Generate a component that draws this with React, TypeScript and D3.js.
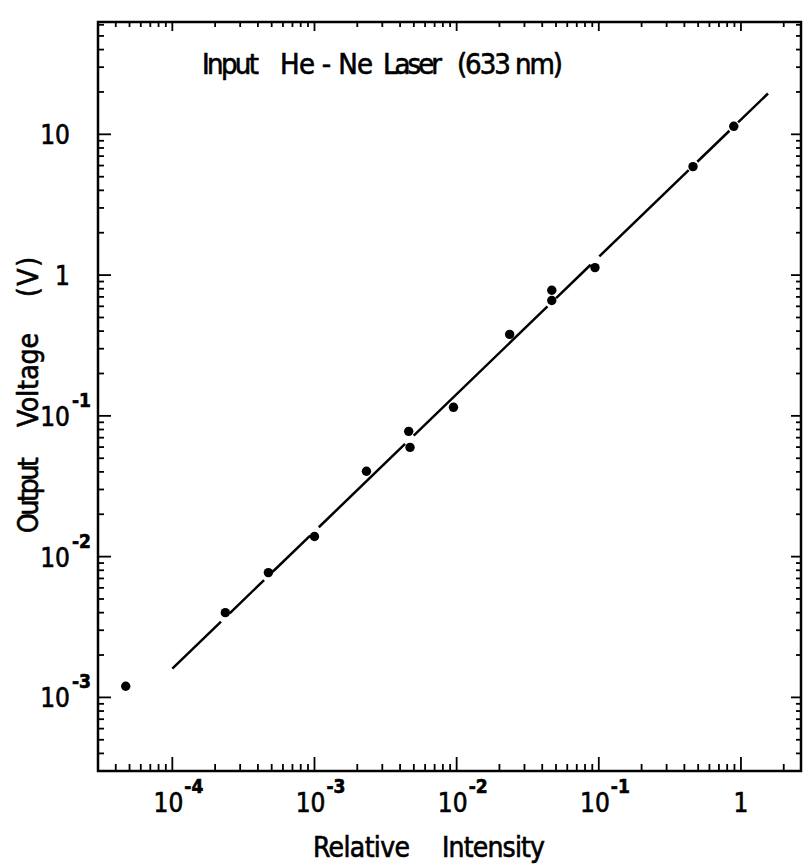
import React from 'react';
import * as d3 from 'd3';

// measured points (relative intensity vs output voltage)
const intensity = [4.7e-5, 2.36e-4, 4.74e-4, 1.0e-3, 2.32e-3, 4.6e-3, 4.7e-3, 9.5e-3, 2.36e-2, 4.67e-2, 4.67e-2, 9.4e-2, 0.46, 0.89];
const voltage = [1.2e-3, 4.0e-3, 7.7e-3, 1.39e-2, 4.04e-2, 7.76e-2, 5.97e-2, 0.115, 0.379, 0.78, 0.66, 1.13, 5.9, 11.4];

// fitted straight line, with breaks where it passes under a dot
const fitIntensity = [1e-4, 1.55];
const fitVoltage = [1.6e-3, 19.5];
const gapIntensity = [2.36e-4, 4.74e-4, 1.0e-3, 4.65e-3, 4.67e-2, 9.4e-2, 0.46, 0.89];

const xMajor = [1e-4, 1e-3, 1e-2, 1e-1, 1];
const xMajorExp = ['-4', '-3', '-2', '-1', ''];
const yMajor = [1e-3, 1e-2, 1e-1, 1, 10];
const yMajorBase = ['10', '10', '10', '1', '10'];
const yMajorExp = ['-3', '-2', '-1', '', ''];

const W = 803;
const H = 864;
const left = 98, right = 801, top = 22, bottom = 771;
const font = "'Liberation Sans Narrow', 'DejaVu Sans Condensed', 'Arial Narrow', sans-serif";

export default function App() {
  const x = d3.scaleLog().domain([3e-5, 2.645]).range([left, right]);
  const y = d3.scaleLog().domain([3e-4, 62.8]).range([bottom, top]);

  const isMajor = (v: number) => Math.abs(Math.log10(v) - Math.round(Math.log10(v))) < 1e-6;
  const xTicks = x.ticks().filter(v => x(v) > left + 1 && x(v) < right - 1);
  const yTicks = y.ticks().filter(v => y(v) < bottom - 1 && y(v) > top + 1);

  // fit line split into segments around the gaps
  const x0 = x(fitIntensity[0]), y0 = y(fitVoltage[0]);
  const x1 = x(fitIntensity[1]), y1 = y(fitVoltage[1]);
  const len = Math.hypot(x1 - x0, y1 - y0);
  const gapHalf = 6;
  const cuts = gapIntensity.map(g => ((x(g) - x0) / (x1 - x0)) * len).sort((a, b) => a - b);
  const segs: [number, number][] = [];
  let start = 0;
  cuts.forEach(c => {
    if (c - gapHalf > start) segs.push([start, c - gapHalf]);
    start = c + gapHalf;
  });
  if (start < len) segs.push([start, len]);
  const pt = (t: number) => [x0 + ((x1 - x0) * t) / len, y0 + ((y1 - y0) * t) / len];
  const line = d3.line();

  return (
    <div style={{ position: 'absolute', left: 0, top: 0 }}>
      <svg width={W} height={H} style={{ display: 'block', background: '#fff' }}>
        <rect x={left} y={top} width={right - left} height={bottom - top} fill="none" stroke="#000" strokeWidth={2.5} />

        {/* bottom + top ticks */}
        {xTicks.map((v, i) => {
          const m = isMajor(v);
          return (
            <g key={'xt' + i} stroke="#000" strokeWidth={1.8}>
              <line x1={x(v)} x2={x(v)} y1={bottom} y2={bottom - (m ? 14 : 7)} />
              <line x1={x(v)} x2={x(v)} y1={top} y2={top + (m ? 9 : 5)} />
            </g>
          );
        })}
        {/* left + right ticks */}
        {yTicks.map((v, i) => {
          const m = isMajor(v);
          return (
            <g key={'yt' + i} stroke="#000" strokeWidth={1.8}>
              <line x1={left} x2={left + (m ? 13 : 6)} y1={y(v)} y2={y(v)} />
              <line x1={right} x2={right - (m ? 10 : 5)} y1={y(v)} y2={y(v)} />
            </g>
          );
        })}

        <g fontFamily={font} fill="#000" stroke="#000" strokeWidth={0.6}>
          {/* x tick labels */}
          {xMajor.map((v, i) => (
            <g key={'xl' + i}>
              {xMajorExp[i] ? (
                <>
                  <text x={x(v) + 11} y={812} fontSize={26} textAnchor="end">10</text>
                  <text x={x(v) + 12} y={793} fontSize={19} textAnchor="start" fontWeight="bold">{xMajorExp[i]}</text>
                </>
              ) : (
                <text x={x(v)} y={812} fontSize={26} textAnchor="middle">1</text>
              )}
            </g>
          ))}

          {/* y tick labels */}
          {yMajor.map((v, i) => (
            <g key={'yl' + i}>
              <text x={70} y={y(v) + 10} fontSize={26} textAnchor="end">{yMajorBase[i]}</text>
              {yMajorExp[i] && (
                <text x={72} y={y(v) - 9} fontSize={19} textAnchor="start" fontWeight="bold">{yMajorExp[i]}</text>
              )}
            </g>
          ))}

          {/* title */}
          <g fontSize={29}>
            <text x={202} y={74} textLength={57} lengthAdjust="spacing">Input</text>
            <text x={280} y={74} textLength={93} lengthAdjust="spacing">He - Ne</text>
            <text x={383} y={74} textLength={59} lengthAdjust="spacing">Laser</text>
            <text x={457} y={74} textLength={106} lengthAdjust="spacing">(633 nm)</text>
          </g>

          {/* x axis title */}
          <g fontSize={28}>
            <text x={313} y={857} textLength={97} lengthAdjust="spacing">Relative</text>
            <text x={442} y={857} textLength={103} lengthAdjust="spacing">Intensity</text>
          </g>

          {/* y axis title */}
          <g fontSize={28}>
            <text transform="translate(38,533) rotate(-90)" textLength={76} lengthAdjust="spacing">Output</text>
            <text transform="translate(38,427) rotate(-90)" textLength={94} lengthAdjust="spacing">Voltage</text>
            <text transform="translate(38,297) rotate(-90)" textLength={40} lengthAdjust="spacing">( V )</text>
          </g>
        </g>

        {/* fit line */}
        {segs.map((s, i) => (
          <path key={'seg' + i} d={line([pt(s[0]), pt(s[1])] as [number, number][]) || ''} stroke="#000" strokeWidth={2.5} fill="none" />
        ))}

        {/* points */}
        {intensity.map((v, i) => (
          <circle key={'p' + i} cx={x(v)} cy={y(voltage[i])} r={4.7} fill="#000" />
        ))}
      </svg>
    </div>
  );
}
